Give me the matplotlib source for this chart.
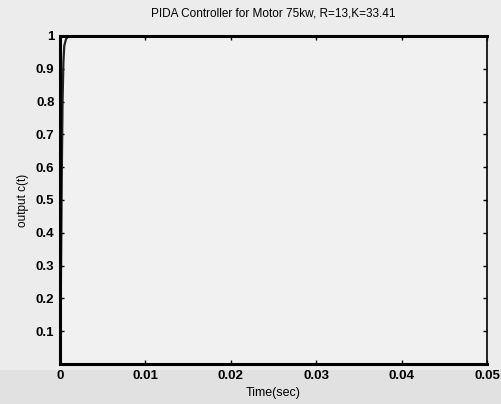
import matplotlib
matplotlib.use("Agg")
import matplotlib.pyplot as plt
from matplotlib.patches import Rectangle

# step response of the PIDA controlled motor
t = [0, 0.0001, 0.0002, 0.0003, 0.0004, 0.0005, 0.0007, 0.001, 0.002, 0.05]
c = [0, 0.22, 0.55, 0.80, 0.92, 0.97, 0.99, 1.0, 1.0, 1.0]

xticks = [0, 0.01, 0.02, 0.03, 0.04, 0.05]
xlabels = ["0", "0.01", "0.02", "0.03", "0.04", "0.05"]
yticks = [0.1, 0.2, 0.3, 0.4, 0.5, 0.6, 0.7, 0.8, 0.9, 1]
ylabels = ["0.1", "0.2", "0.3", "0.4", "0.5", "0.6", "0.7", "0.8", "0.9", "1"]

plt.rcParams['font.family'] = ['Liberation Sans', 'DejaVu Sans']

fig = plt.figure(figsize=(5.02, 4.04), dpi=100, facecolor="#ececec")
# darker band of the scan at the bottom
fig.patches.append(Rectangle((0, 0), 1, 0.085, transform=fig.transFigure,
                             facecolor="#e1e1e1", edgecolor="none", zorder=-5))

ax = fig.add_axes([0.1195, 0.099, 0.851, 0.812])
ax.set_facecolor("#f1f1f1")
ax.plot(t, c, color="#222222", linewidth=1.6)

ax.set_xlim(0, 0.05)
ax.set_ylim(0, 1)
ax.set_xticks(xticks)
ax.set_xticklabels(xlabels, fontsize=9.5, fontweight="bold")
ax.set_yticks(yticks)
ax.set_yticklabels(ylabels, fontsize=9.5, fontweight="bold")
ax.tick_params(direction="in", length=3, width=1, top=True, right=True, pad=4)

for side in ["left", "bottom", "top", "right"]:
    ax.spines[side].set_linewidth(2.2)
ax.spines["right"].set_linewidth(1.2)

ax.set_title("PIDA Controller for Motor 75kw, R=13,K=33.41", fontsize=8.5, pad=14)
ax.set_xlabel("Time(sec)", fontsize=9, labelpad=4)
ax.set_ylabel("output c(t)", fontsize=8.5, labelpad=5)

fig.savefig("out.png", dpi=100, facecolor=fig.get_facecolor())
